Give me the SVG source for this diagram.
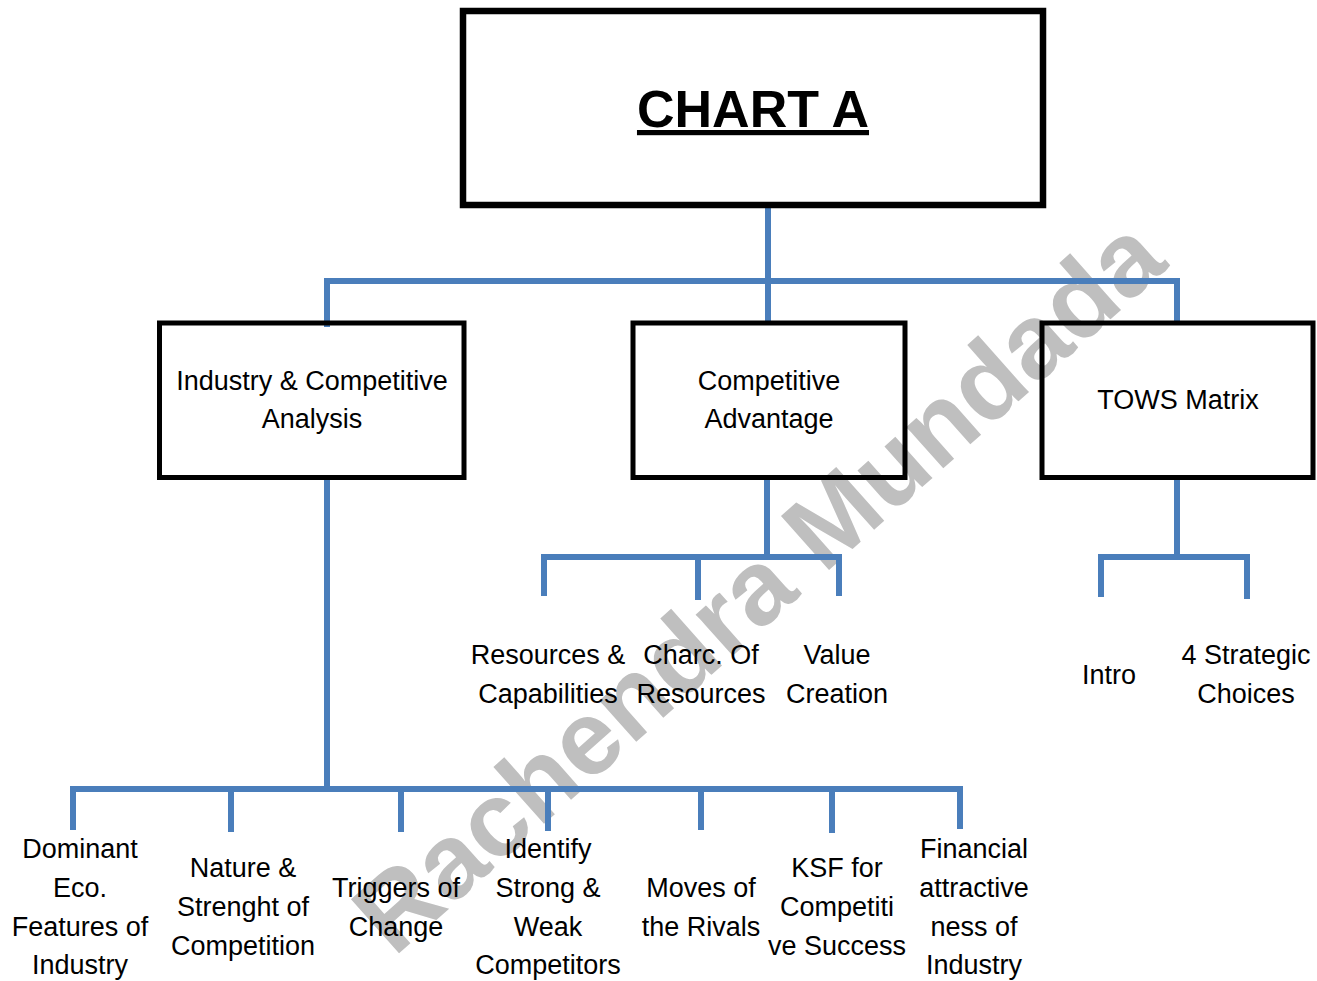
<svg xmlns="http://www.w3.org/2000/svg" width="1317" height="981" viewBox="0 0 1317 981">
<style>
.box{fill:none;stroke:#000;stroke-width:5}
.title{fill:none;stroke:#000;stroke-width:6.5}
.lbl{font-family:"Liberation Sans",Arial,sans-serif;font-size:27px;fill:#000;text-anchor:middle}
.conn{fill:none;stroke:#4A7EBB;stroke-width:6;stroke-linejoin:miter;stroke-linecap:butt}
.wm{font-family:"Liberation Sans",Arial,sans-serif;font-weight:bold;font-size:105px;fill:#BFBFBF;text-anchor:middle}
</style>
<rect width="1317" height="981" fill="#fff"/>
<text class="wm" transform="translate(782,612) rotate(-41.7)" x="0" y="0" textLength="1040" lengthAdjust="spacingAndGlyphs">Rachendra Mundada</text>
<g id="connectors">
<path class="conn" d="M768 208V321"/>
<path class="conn" d="M327 327V281H1177V322"/>
<path class="conn" d="M327 479V789"/>
<path class="conn" d="M73 830V789H960V829"/>
<path class="conn" d="M231 789V832M401 789V832M548 789V831M701 789V830M832 789V833"/>
<path class="conn" d="M767 479V557"/>
<path class="conn" d="M544 596V557H839V596M698 557V600"/>
<path class="conn" d="M1177 479V557"/>
<path class="conn" d="M1101 597V557H1247V599"/>
</g>
<g id="chart-a">
<rect class="title" x="463" y="11" width="580" height="194"/>
<text x="753" y="127" font-family="Liberation Sans,Arial,sans-serif" font-weight="bold" font-size="52" text-anchor="middle" text-decoration="underline">CHART A</text>
</g>
<g id="industry">
<rect class="box" x="159.5" y="323" width="304.5" height="154.5"/>
<text class="lbl" x="312" y="390">Industry &amp; Competitive</text>
<text class="lbl" x="312" y="428">Analysis</text>
</g>
<g id="comp-adv">
<rect class="box" x="633" y="323" width="272" height="154.5"/>
<text class="lbl" x="769" y="390">Competitive</text>
<text class="lbl" x="769" y="428">Advantage</text>
</g>
<g id="tows">
<rect class="box" x="1042" y="323" width="271" height="154.5"/>
<text class="lbl" x="1178" y="409">TOWS Matrix</text>
</g>
<g id="resources">
<text class="lbl" x="548" y="664">Resources &amp;</text>
<text class="lbl" x="548" y="703">Capabilities</text>
</g>
<g id="charc">
<text class="lbl" x="701" y="664">Charc. Of</text>
<text class="lbl" x="701" y="703">Resources</text>
</g>
<g id="value">
<text class="lbl" x="837" y="664">Value</text>
<text class="lbl" x="837" y="703">Creation</text>
</g>
<g id="intro">
<text class="lbl" x="1109" y="684">Intro</text>
</g>
<g id="strategic">
<text class="lbl" x="1246" y="664">4 Strategic</text>
<text class="lbl" x="1246" y="703">Choices</text>
</g>
<g id="dominant">
<text class="lbl" x="80" y="858">Dominant</text>
<text class="lbl" x="80" y="897">Eco.</text>
<text class="lbl" x="80" y="936">Features of</text>
<text class="lbl" x="80" y="974">Industry</text>
</g>
<g id="nature">
<text class="lbl" x="243" y="877">Nature &amp;</text>
<text class="lbl" x="243" y="916">Strenght of</text>
<text class="lbl" x="243" y="955">Competition</text>
</g>
<g id="triggers">
<text class="lbl" x="396" y="897">Triggers of</text>
<text class="lbl" x="396" y="936">Change</text>
</g>
<g id="identify">
<text class="lbl" x="548" y="858">Identify</text>
<text class="lbl" x="548" y="897">Strong &amp;</text>
<text class="lbl" x="548" y="936">Weak</text>
<text class="lbl" x="548" y="974">Competitors</text>
</g>
<g id="moves">
<text class="lbl" x="701" y="897">Moves of</text>
<text class="lbl" x="701" y="936">the Rivals</text>
</g>
<g id="ksf">
<text class="lbl" x="837" y="877">KSF for</text>
<text class="lbl" x="837" y="916">Competiti</text>
<text class="lbl" x="837" y="955">ve Success</text>
</g>
<g id="financial">
<text class="lbl" x="974" y="858">Financial</text>
<text class="lbl" x="974" y="897">attractive</text>
<text class="lbl" x="974" y="936">ness of</text>
<text class="lbl" x="974" y="974">Industry</text>
</g>
</svg>
